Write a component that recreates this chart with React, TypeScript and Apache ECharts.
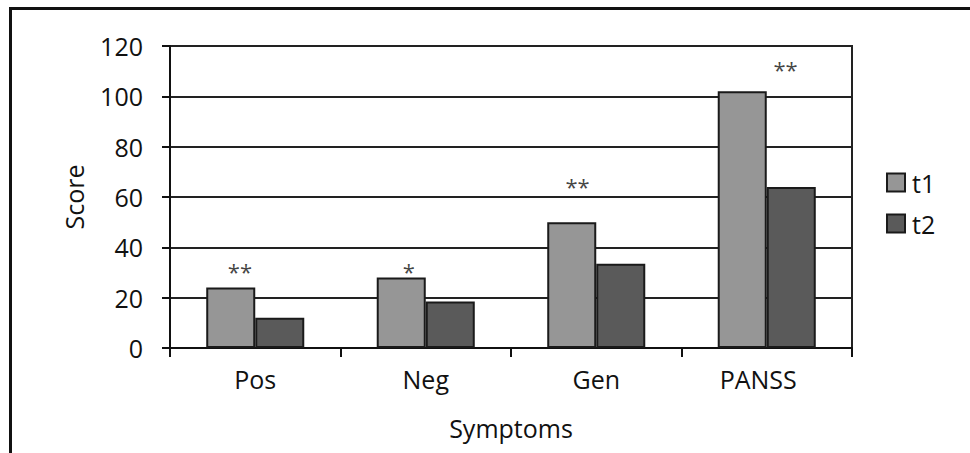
import React, { useEffect, useRef } from "react";
import * as echarts from "echarts";

const categories = ["Pos", "Neg", "Gen", "PANSS"];
const t1Values = [24, 28, 50, 102];
const t2Values = [12, 18.5, 33.5, 64];
const sigLabels = ["**", "*", "**", "**"];
const sigX = [0.41, 1.4, 2.39, 3.61];
const sigY = [32, 32, 66, 112.4];
const yTicks = { min: 0, max: 120, interval: 20 };

const FONT = "Open Sans";
const TXT = "#111";

export default function App() {
  const ref = useRef<HTMLDivElement>(null);
  useEffect(() => {
    if (!ref.current) return;
    const chart = echarts.init(ref.current, undefined, { renderer: "svg" });
    const gridColor = "#222";
    chart.setOption({
      animation: false,
      backgroundColor: "#ffffff",
      textStyle: { fontFamily: FONT },
      graphic: [
        {
          type: "rect",
          silent: true,
          shape: { x: 10.5, y: 8.5, width: 1200, height: 1200 },
          style: { fill: "none", stroke: "#111", lineWidth: 3 },
        },
      ],
      grid: {
        left: 170,
        right: 118,
        top: 46,
        bottom: 105,
        show: true,
        borderColor: gridColor,
        borderWidth: 2,
        backgroundColor: "transparent",
      },
      legend: {
        orient: "vertical",
        left: 881,
        top: 165,
        itemWidth: 18,
        itemHeight: 18,
        itemGap: 16,
        icon: "rect",
        textStyle: { fontFamily: FONT, fontSize: 25, color: TXT, padding: [0, 0, 0, 2] },
        data: ["t1", "t2"],
      },
      xAxis: [
        {
          type: "category",
          data: categories,
          name: "Symptoms",
          nameLocation: "middle",
          nameGap: 67,
          nameTextStyle: { fontFamily: FONT, fontSize: 25, color: TXT },
          axisLine: { lineStyle: { color: "#111", width: 2 } },
          axisTick: { show: true, length: 9, lineStyle: { color: "#111", width: 2 } },
          axisLabel: {
            fontFamily: FONT,
            fontSize: 25,
            color: TXT,
            margin: 18,
            formatter: (v: string) => (v === "PANSS" ? "{p|" + v + "}" : v),
            rich: {
              p: { fontFamily: FONT, fontSize: 25, color: TXT, padding: [0, 17, 0, 0] },
            },
          },
        },
        {
          type: "value",
          min: 0,
          max: 4,
          show: false,
        },
      ],
      yAxis: {
        type: "value",
        min: yTicks.min,
        max: yTicks.max,
        interval: yTicks.interval,
        name: "Score",
        nameLocation: "middle",
        nameGap: 84,
        nameTextStyle: { fontFamily: FONT, fontSize: 25, color: TXT },
        axisLine: { show: true, lineStyle: { color: "#111", width: 2 } },
        axisTick: { show: true, length: 8, lineStyle: { color: "#111", width: 2 } },
        axisLabel: { fontFamily: FONT, fontSize: 25, color: TXT, margin: 27 },
        splitLine: { show: true, lineStyle: { color: gridColor, width: 2 } },
      },
      series: [
        {
          name: "t1",
          type: "bar",
          data: t1Values,
          barGap: "0%",
          barCategoryGap: "42.5%",
          itemStyle: { color: "#969696", borderColor: "#1a1a1a", borderWidth: 2 },
        },
        {
          name: "t2",
          type: "bar",
          data: t2Values,
          itemStyle: { color: "#5a5a5a", borderColor: "#1a1a1a", borderWidth: 2 },
        },
        {
          name: "sig",
          type: "scatter",
          xAxisIndex: 1,
          yAxisIndex: 0,
          symbolSize: 0,
          silent: true,
          data: sigX.map((x, i) => ({ value: [x, sigY[i]], label: { formatter: sigLabels[i] } })),
          label: {
            show: true,
            position: "inside",
            offset: [0, 4],
            fontFamily: FONT,
            fontSize: 22,
            color: TXT,
          },
        },
      ],
    });
    return () => chart.dispose();
  }, []);
  return (
    <div
      ref={ref}
      style={{ position: "fixed", left: 0, top: 0, width: 970, height: 453, background: "#fff" }}
    />
  );
}
